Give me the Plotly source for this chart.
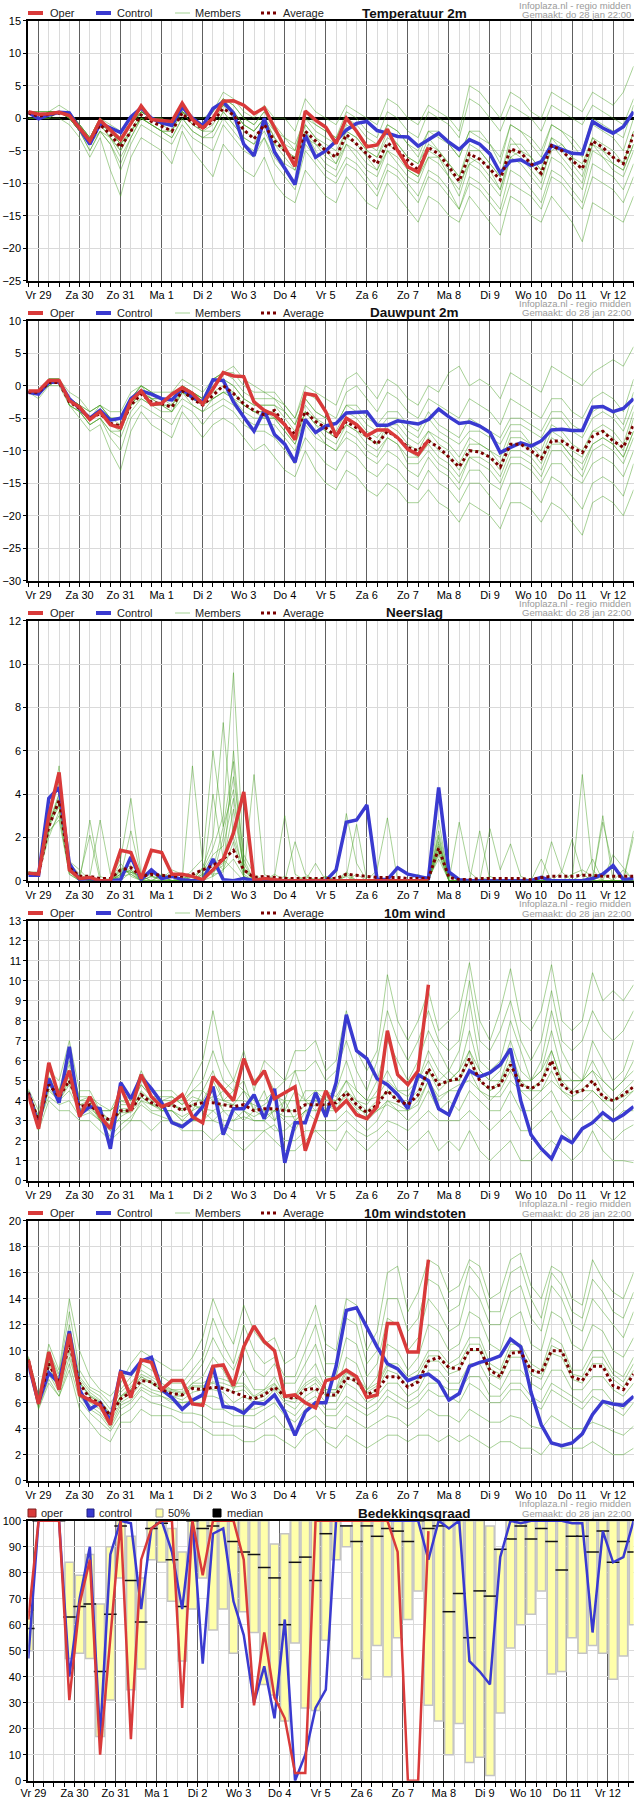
import plotly.graph_objects as go

W, H = 635, 1800
hours = list(range(-6, 349, 6))          # 6-hourly steps, 28 jan 18:00 .. 12 feb 12:00
hours_cc = list(range(-3, 352, 6))       # cloud-cover intervals (centres)
day_pos = list(range(0, 337, 24))
day_labels = ["Vr 29", "Za 30", "Zo 31", "Ma 1", "Di 2", "Wo 3", "Do 4", "Vr 5",
              "Za 6", "Zo 7", "Ma 8", "Di 9", "Wo 10", "Do 11", "Vr 12"]

# ---------------- Temperatuur 2m ----------------
t2m_oper = [1.0, 0.6, 0.7, 0.9, 0.4, -1.5, -3.5, -0.3, -1.8, -3.3,
            -0.8, 1.9, -0.2, -0.4, -0.5, 2.3, -0.2, -1.5, 0.0, 2.6,
            2.7, 2.0, 0.7, 1.6, -1.5, -4.5, -7.4, 1.1, -0.3, -1.4,
            -3.9, 0.0, -2.0, -4.4, -4.1, -1.7, -5.0, -7.5, -8.3, -4.5]
t2m_ctrl = [0.9, -0.1, 0.5, 0.9, 0.8, -1.5, -4.0, -0.8, -1.5, -2.2,
            0.2, 1.6, 0.0, -0.7, -1.1, 1.7, 0.0, -1.2, 1.5, 2.5,
            0.8, -4.0, -5.8, 0.0, -5.2, -7.8, -10.2, -2.6, -6.0, -5.0,
            -3.5, -1.8, -0.8, -0.5, -1.9, -2.3, -2.8, -2.9, -4.3, -3.3,
            -2.3, -3.7, -4.8, -3.3, -4.0, -5.5, -8.4, -6.6, -6.4, -7.3,
            -6.7, -4.2, -4.8, -5.4, -5.5, -0.5, -1.5, -2.3, -1.3, 1.0]
t2m_avg = [0.8, 0.3, 0.6, 0.8, 0.5, -1.5, -3.5, -1.0, -2.5, -4.5,
           -2.0, 0.5, -0.5, -1.3, -2.0, 0.8, -0.8, -1.5, -0.5, 1.5,
           0.5, -1.8, -3.2, -1.0, -3.5, -5.0, -6.5, -2.0, -3.5, -5.0,
           -6.0, -2.5, -4.0, -5.5, -7.0, -3.8, -5.0, -6.5, -8.0, -4.5,
           -5.5, -7.5, -9.7, -5.5, -6.3, -7.8, -9.5, -4.7, -5.3, -7.0,
           -8.5, -4.2, -5.0, -6.5, -7.8, -3.5, -4.5, -6.0, -7.0, -2.5]
t2m_members = [
    [1, 0, 1, 1, 0, -2, -3, 0, -2, -3, -1, 1, 0, 0, -1, 2, 0, 0, 1, 4, 3, 1, 0, 2, 0, 0, -2, 3, 1, 0,
     -1, 2, 1, 0, -1, 3, 2, 0, -1, 2, 1, 0, -2, 5, 4, 2, 0, 4, 3, 1, 0, 4, 3, 2, 1, 4, 3, 2, 4, 8],
    [0, 0, 0, 0, -1, -3, -6, -3, -8, -12, -6, -3, -4, -5, -7, -2, -5, -7, -9, -4, -6, -8, -9, -6, -10, -12, -13, -8, -10, -12,
     -13, -9, -11, -13, -14, -10, -12, -14, -16, -12, -13, -15, -16, -12, -14, -16, -18, -12, -13, -15, -16, -12, -14, -16, -19, -13, -14, -15, -16, -12],
    [1, 1, 1, 2, 1, -1, -3, 0, -2, -4, -1, 1, 0, -1, -1, 1, 0, -1, 0, 3, 2, 0, -1, 1, -1, -3, -4, 0, -1, -2,
     -3, 0, -1, -3, -4, -1, -2, -4, -5, -2, -3, -4, -6, -2, -3, -4, -6, -1, -2, -3, -5, -1, -2, -3, -5, 0, -1, -2, -3, 2],
    [1, 0, 0, 1, 0, -2, -5, -2, -4, -7, -3, 0, -1, -2, -3, 0, -2, -3, -3, 0, -2, -4, -5, -3, -6, -8, -10, -4, -6, -8,
     -9, -6, -7, -9, -11, -7, -8, -10, -12, -8, -9, -11, -14, -9, -10, -12, -14, -8, -9, -11, -13, -8, -9, -11, -13, -7, -8, -9, -11, -7],
    [1, 0, 1, 1, 1, -1, -4, -1, -3, -5, -2, 0, -1, -2, -2, 1, -1, -2, -2, 1, -1, -3, -4, -1, -4, -6, -8, -3, -4, -5,
     -6, -2, -3, -5, -6, -2, -4, -6, -7, -3, -5, -7, -9, -4, -5, -7, -9, -3, -5, -6, -8, -3, -5, -7, -9, -4, -6, -7, -8, -4],
    [0, 0, 1, 1, 0, -2, -4, -1, -2, -4, -2, 1, 0, -1, -2, 2, 0, -1, 1, 3, 1, -1, -2, 0, -3, -5, -6, -1, -3, -5,
     -7, -4, -5, -7, -8, -5, -6, -8, -9, -6, -6, -8, -10, -7, -6, -8, -11, -6, -5, -7, -9, -5, -4, -6, -7, -3, -5, -6, -7, -2],
    [1, 1, 1, 1, 0, -2, -4, -2, -3, -6, -3, 0, -1, -2, -3, 0, -2, -3, -2, 1, -1, -3, -4, -2, -5, -7, -8, -2, -5, -7,
     -8, -4, -6, -8, -9, -5, -7, -9, -10, -6, -7, -9, -12, -7, -8, -10, -12, -6, -7, -9, -11, -6, -7, -9, -11, -5, -6, -8, -9, -5],
    [1, 0, 1, 1, 0, -1, -3, 0, -1, -2, -1, 1, 0, 0, -1, 2, 0, -1, 0, 2, 1, -1, -2, 0, -2, -4, -5, 0, -2, -3,
     -4, -1, -2, -4, -5, -1, -2, -4, -6, -2, -2, -4, -6, -2, -2, -4, -7, -1, -2, -4, -6, -1, -2, -4, -6, -1, -2, -3, -5, 0],
    [1, 0, 0, 1, 0, -2, -4, -1, -3, -5, -2, 0, -1, -2, -2, 1, -1, -2, -1, 2, 0, -2, -3, -1, -4, -5, -7, -2, -4, -6,
     -7, -3, -4, -6, -8, -4, -5, -8, -9, -5, -6, -9, -11, -6, -7, -9, -11, -5, -6, -8, -10, -4, -6, -8, -10, -4, -5, -7, -8, -4],
    [1, 0, 1, 1, 1, -1, -3, -1, -2, -4, -2, 0, 0, -1, -1, 1, 0, -1, 0, 2, 1, -1, -2, 0, -3, -5, -6, -1, -3, -4,
     -5, -2, -3, -5, -6, -3, -4, -6, -7, -4, -5, -7, -9, -5, -5, -7, -9, -4, -4, -6, -8, -3, -4, -6, -8, -3, -4, -5, -7, -2],
    [0, 0, 0, 1, 0, -2, -5, -2, -4, -8, -4, -1, -2, -3, -4, -1, -3, -4, -5, -1, -3, -5, -6, -3, -7, -9, -11, -5, -7, -9,
     -10, -7, -8, -10, -12, -8, -9, -11, -13, -9, -10, -12, -14, -10, -11, -13, -15, -10, -11, -12, -14, -9, -10, -12, -14, -9, -10, -11, -13, -9],
    [1, 1, 1, 1, 0, -1, -3, 0, -2, -3, -1, 1, 0, 0, -1, 1, 0, -1, 1, 3, 2, 0, -1, 1, -2, -3, -5, 1, -1, -2,
     -3, 1, 0, -2, -3, 1, 0, -2, -3, 1, 0, -1, -3, 3, 2, 0, -2, 2, 1, 0, -2, 2, 1, 0, -1, 2, 1, 0, -1, 3],
]

# ---------------- Dauwpunt 2m ----------------
td_oper = [-0.8, -0.8, 0.8, 0.8, -2.3, -3.3, -5.2, -4.0, -6.0, -6.5,
           -2.3, -0.8, -2.9, -2.7, -1.3, -0.3, -1.2, -2.8, -0.5, 2.0,
           1.5, 1.4, -2.5, -3.8, -4.5, -6.0, -8.3, -1.2, -1.5, -4.0,
           -7.8, -5.0, -6.0, -7.7, -6.8, -6.8, -8.0, -9.8, -10.6, -8.4]
td_ctrl = [-1.0, -1.3, 0.5, 0.6, -2.0, -3.5, -5.0, -3.8, -5.3, -5.0,
           -2.0, -0.8, -1.3, -2.0, -2.2, -0.5, -1.8, -2.5, 0.9, 0.8,
           -2.5, -4.8, -7.0, -3.8, -7.5, -9.0, -11.8, -5.2, -7.2, -6.2,
           -5.8, -4.2, -4.1, -4.0, -6.1, -6.1, -5.4, -5.6, -5.9, -5.2,
           -3.6, -4.8, -5.8, -5.6, -6.2, -7.2, -10.3, -9.5, -8.8, -9.3,
           -8.5, -6.8, -6.7, -6.9, -6.9, -3.3, -3.2, -4.0, -3.5, -2.0]
td_avg = [-1.0, -1.0, 0.5, 0.5, -2.5, -3.5, -5.0, -4.3, -5.8, -6.2,
          -3.0, -1.3, -2.5, -2.8, -3.3, -0.8, -2.0, -3.0, -1.5, 0.0,
          -1.2, -2.8, -3.8, -4.5, -3.8, -6.0, -7.5, -4.0, -5.5, -6.5,
          -7.8, -5.5, -6.5, -7.8, -9.0, -7.0, -8.0, -9.5, -10.0, -8.5,
          -9.5, -11.0, -12.5, -10.0, -10.2, -11.0, -12.5, -9.0, -9.0, -10.0,
          -11.2, -8.5, -8.5, -9.5, -10.3, -7.8, -7.0, -8.5, -9.5, -6.0]
td_members = [
    [-1, -1, 1, 1, -1, -2, -4, -3, -4, -4, -1, 0, -1, -1, -1, 1, 0, -1, 1, 2, 3, 1, 0, -1, -2, -3, -5, 0, -1, -2,
     -3, 1, 2, 0, -2, 1, 0, -2, -3, 0, -1, 2, 3, 0, 1, 0, -2, 2, 1, 0, -1, 3, 2, 1, 0, 2, 3, 4, 3, 6],
    [-1, -2, 0, 0, -3, -5, -7, -6, -10, -13, -7, -4, -6, -7, -8, -4, -6, -8, -6, -5, -6, -8, -10, -9, -11, -13, -14, -10, -13, -15,
     -16, -13, -14, -16, -17, -15, -16, -18, -18, -16, -18, -19, -21, -18, -19, -20, -22, -18, -18, -19, -21, -18, -19, -21, -23, -18, -17, -18, -20, -16],
    [-1, -1, 1, 1, -2, -3, -4, -3, -5, -5, -2, 0, -1, -2, -2, 0, -1, -2, 0, 1, 0, -2, -3, -3, -3, -4, -6, -2, -4, -5,
     -6, -3, -4, -6, -7, -5, -5, -7, -8, -5, -7, -8, -9, -7, -7, -8, -9, -6, -6, -7, -8, -5, -5, -7, -8, -5, -4, -5, -7, -3],
    [-1, -1, 0, 1, -3, -4, -6, -5, -7, -8, -4, -2, -3, -4, -4, -2, -3, -4, -3, -2, -3, -5, -6, -6, -6, -8, -10, -6, -8, -9,
     -10, -8, -9, -11, -12, -10, -11, -13, -14, -11, -13, -14, -16, -13, -13, -15, -16, -12, -12, -13, -15, -12, -12, -14, -15, -12, -11, -12, -14, -10],
    [-1, -1, 1, 1, -2, -3, -5, -4, -6, -6, -3, -1, -2, -3, -3, -1, -2, -3, -2, -1, -2, -3, -4, -5, -5, -6, -8, -4, -6, -7,
     -8, -6, -7, -8, -9, -7, -8, -10, -11, -8, -10, -11, -13, -10, -10, -11, -13, -9, -9, -10, -12, -8, -9, -11, -12, -9, -8, -9, -11, -7],
    [-1, -1, 1, 1, -2, -3, -5, -4, -5, -6, -2, -1, -2, -2, -3, 0, -1, -2, 0, 1, 0, -2, -3, -3, -3, -5, -7, -3, -5, -6,
     -7, -4, -5, -7, -8, -6, -6, -8, -9, -7, -8, -9, -11, -8, -9, -10, -11, -7, -7, -9, -10, -6, -7, -9, -10, -7, -6, -7, -9, -4],
    [-1, -1, 0, 1, -2, -4, -6, -5, -7, -7, -3, -2, -3, -3, -4, -1, -3, -4, -2, -1, -2, -4, -5, -5, -5, -7, -9, -5, -7, -9,
     -10, -7, -8, -10, -11, -8, -9, -12, -12, -10, -12, -13, -15, -11, -12, -13, -15, -11, -11, -12, -14, -10, -10, -12, -14, -10, -9, -10, -12, -8],
    [-1, -1, 1, 1, -2, -3, -5, -3, -5, -5, -2, 0, -2, -2, -2, 0, -1, -2, 1, 2, 1, -1, -2, -2, -2, -4, -6, -2, -4, -5,
     -6, -3, -3, -5, -6, -4, -4, -6, -7, -4, -6, -7, -8, -5, -6, -7, -8, -5, -5, -6, -7, -4, -4, -6, -7, -4, -3, -4, -6, -1],
    [-1, -1, 1, 1, -3, -4, -5, -4, -6, -7, -3, -1, -3, -3, -4, -1, -2, -3, -2, -1, -1, -3, -4, -4, -5, -7, -9, -4, -6, -8,
     -9, -6, -7, -9, -10, -8, -9, -11, -11, -9, -11, -12, -14, -11, -11, -12, -14, -10, -10, -11, -13, -9, -9, -11, -13, -9, -8, -9, -11, -7],
    [-1, -1, 1, 1, -2, -3, -5, -4, -6, -6, -3, -1, -2, -3, -3, -1, -2, -3, -1, 0, -1, -3, -4, -4, -4, -6, -8, -4, -5, -7,
     -8, -5, -6, -8, -9, -6, -7, -9, -10, -7, -9, -10, -12, -9, -9, -10, -12, -8, -8, -9, -11, -7, -8, -10, -11, -7, -7, -8, -10, -5],
    [-1, -1, 0, 1, -3, -4, -6, -5, -8, -10, -5, -3, -4, -5, -6, -3, -4, -6, -4, -3, -4, -6, -7, -7, -8, -10, -12, -8, -10, -12,
     -13, -10, -11, -13, -14, -12, -13, -15, -16, -13, -15, -16, -18, -15, -15, -17, -19, -15, -15, -16, -18, -14, -15, -17, -19, -15, -14, -15, -17, -12],
    [-1, -1, 1, 1, -2, -3, -4, -3, -5, -5, -2, 0, -1, -2, -2, 0, -1, -2, 1, 2, 2, 0, -1, -1, -1, -3, -5, -1, -2, -4,
     -5, -1, 0, -2, -4, -1, -2, -4, -5, -2, -3, -4, -5, -2, -3, -4, -6, -2, -3, -4, -5, -2, -2, -4, -5, -2, -1, -2, -4, 1],
]

# ---------------- Neerslag ----------------
pr_oper = [0.35, 0.3, 3.0, 5.0, 0.5, 0.1, 0.15, 0.0, 0.0, 1.4,
           1.3, 0.1, 1.4, 1.3, 0.3, 0.3, 0.2, 0.05, 0.5, 1.0,
           2.2, 4.1, 0.0, 0.1, 0.05, 0.0, 0.0, 0.0, 0.0, 0.0,
           0.0, 0.0, 0.0, 0.0, 0.0, 0.0, 0.0, 0.0, 0.0, 0.0]
pr_ctrl = [0.25, 0.25, 3.8, 4.3, 0.8, 0.05, 0.1, 0.0, 0.0, 0.05,
           1.1, 0.05, 0.5, 0.1, 0.2, 0.05, 0.0, 0.0, 1.0, 0.05,
           0.0, 0.1, 0.0, 0.05, 0.0, 0.0, 0.0, 0.0, 0.0, 0.0,
           0.5, 2.7, 2.8, 3.5, 0.05, 0.05, 0.6, 0.3, 0.2, 0.1,
           4.3, 0.4, 0.05, 0.0, 0.0, 0.0, 0.0, 0.0, 0.0, 0.0,
           0.15, 0.0, 0.0, 0.0, 0.0, 0.1, 0.3, 0.7, 0.05, 0.1]
pr_avg = [0.35, 0.3, 2.5, 3.7, 0.6, 0.2, 0.2, 0.1, 0.1, 0.5,
          0.6, 0.2, 0.3, 0.25, 0.2, 0.2, 0.3, 0.5, 0.7, 1.0,
          1.4, 0.5, 0.15, 0.2, 0.15, 0.1, 0.1, 0.1, 0.1, 0.1,
          0.1, 0.3, 0.25, 0.2, 0.15, 0.15, 0.15, 0.1, 0.1, 0.1,
          1.5, 0.15, 0.05, 0.05, 0.1, 0.1, 0.1, 0.1, 0.1, 0.05,
          0.15, 0.2, 0.2, 0.2, 0.25, 0.25, 0.2, 0.2, 0.2, 0.2]
pr_members = [
    [0.3, 0.3, 3.0, 4.5, 0.5, 0.1, 0.0, 0.0, 0.0, 0.3, 0.5, 0.0, 0.2, 0.1, 0.0, 0.1, 0.2, 0.5, 1.5, 3.0,
     9.6, 1.0, 0.0, 0.1, 0.0, 0.0, 0.0, 0.0, 0.1, 0.0, 0.0, 0.2, 0.0, 0.0, 0.0, 0.0, 0.0, 0.0, 0.0, 0.1,
     1.0, 0.0, 0.0, 0.0, 0.0, 0.0, 0.0, 0.0, 0.0, 0.0, 0.0, 0.0, 0.0, 0.3, 0.5, 0.2, 0.0, 0.0, 0.0, 0.0],
    [0.4, 0.4, 2.8, 3.5, 0.8, 0.3, 0.0, 0.0, 0.1, 1.0, 3.8, 0.3, 0.2, 0.1, 0.5, 0.3, 0.0, 0.6, 2.0, 7.3,
     2.0, 0.5, 0.0, 0.0, 0.3, 0.0, 0.0, 0.0, 0.0, 0.0, 0.2, 3.1, 0.8, 0.0, 0.0, 0.0, 0.0, 0.0, 0.0, 0.0,
     2.3, 0.2, 0.0, 0.0, 0.0, 0.2, 0.0, 0.0, 0.0, 0.0, 0.0, 0.0, 0.4, 1.9, 0.3, 0.0, 0.0, 0.0, 0.5, 0.0],
    [0.3, 0.3, 2.0, 3.2, 0.4, 0.0, 0.2, 2.8, 0.3, 0.0, 0.4, 0.2, 0.0, 0.3, 0.2, 0.0, 0.5, 1.0, 6.0, 2.5,
     4.2, 0.5, 0.2, 0.0, 0.0, 0.2, 0.0, 0.0, 0.0, 0.2, 0.0, 0.0, 0.3, 0.0, 0.0, 0.0, 0.0, 0.0, 0.0, 0.0,
     2.0, 0.0, 0.0, 0.0, 0.0, 0.0, 0.0, 0.0, 0.0, 0.0, 0.0, 0.0, 0.0, 0.0, 4.9, 0.5, 0.0, 0.0, 0.0, 0.0],
    [0.3, 0.2, 2.5, 5.3, 0.6, 0.1, 0.0, 0.0, 0.0, 0.2, 0.3, 0.0, 0.0, 0.0, 0.0, 0.0, 5.3, 0.8, 0.2, 0.5,
     1.8, 0.2, 4.9, 0.3, 0.0, 0.0, 0.0, 0.0, 0.0, 0.0, 0.0, 0.0, 0.0, 0.0, 0.5, 2.9, 0.0, 0.0, 0.0, 0.0,
     1.2, 0.0, 2.7, 0.4, 0.0, 0.0, 0.0, 0.0, 0.0, 0.0, 0.0, 0.0, 0.0, 0.0, 0.0, 0.0, 0.3, 0.0, 0.0, 0.0],
    [0.4, 0.3, 2.2, 3.0, 0.3, 0.0, 2.8, 0.2, 0.0, 0.6, 0.3, 0.0, 0.5, 0.2, 0.0, 0.0, 0.0, 0.3, 0.5, 0.8,
     3.3, 0.6, 0.0, 0.0, 0.2, 3.0, 0.3, 0.0, 0.0, 0.0, 0.0, 0.0, 0.0, 0.0, 0.0, 0.0, 0.0, 0.0, 0.0, 0.0,
     1.8, 0.0, 0.0, 0.0, 0.0, 2.4, 0.5, 1.7, 0.2, 0.0, 0.0, 0.0, 0.0, 0.0, 0.0, 0.0, 3.0, 0.0, 0.0, 0.0],
    [0.3, 0.3, 2.6, 3.8, 0.9, 0.5, 0.0, 0.0, 0.0, 0.5, 0.4, 0.2, 0.3, 0.2, 0.2, 0.0, 0.0, 0.2, 1.0, 0.5,
     1.0, 0.2, 0.0, 0.0, 0.0, 0.0, 0.0, 0.2, 0.0, 0.0, 0.0, 0.4, 0.0, 0.0, 0.0, 0.0, 0.0, 0.0, 0.0, 0.0,
     1.5, 0.3, 0.0, 0.0, 0.0, 0.0, 0.0, 0.0, 0.0, 0.0, 0.0, 1.8, 0.4, 0.0, 0.0, 0.0, 0.0, 0.0, 0.0, 2.3],
    [0.3, 0.3, 2.4, 3.6, 0.4, 0.2, 0.0, 0.0, 0.0, 0.8, 0.2, 0.0, 0.0, 0.0, 0.0, 0.2, 0.0, 0.0, 4.0, 1.0,
     0.5, 0.0, 0.0, 0.0, 0.0, 0.0, 1.8, 0.3, 0.0, 0.0, 0.0, 0.2, 2.6, 0.0, 0.0, 0.0, 0.0, 0.0, 0.0, 0.0,
     1.4, 0.0, 0.0, 0.0, 0.0, 0.0, 0.0, 0.0, 0.0, 0.0, 0.0, 0.0, 0.0, 0.0, 0.0, 1.0, 0.0, 0.0, 0.0, 0.0],
    [0.4, 0.3, 2.7, 4.0, 0.6, 0.2, 0.0, 0.0, 0.0, 0.3, 0.6, 0.0, 0.0, 0.0, 0.0, 0.0, 0.0, 0.6, 0.3, 0.4,
     6.0, 0.8, 0.0, 0.0, 0.0, 0.0, 0.0, 0.0, 0.0, 0.0, 0.0, 0.0, 0.0, 0.0, 0.0, 0.0, 0.0, 0.0, 0.3, 0.0,
     2.8, 0.0, 0.0, 0.0, 0.0, 0.0, 0.0, 0.0, 0.0, 0.0, 0.0, 0.0, 0.0, 0.0, 0.0, 0.0, 0.0, 1.2, 0.6, 0.0],
    [0.3, 0.3, 2.3, 2.8, 0.3, 0.0, 0.0, 0.0, 0.0, 0.2, 2.3, 0.2, 0.0, 0.0, 0.0, 0.0, 0.0, 0.0, 0.2, 2.0,
     4.8, 1.2, 0.3, 0.0, 0.0, 0.0, 0.0, 0.0, 0.0, 0.0, 0.0, 0.0, 0.0, 0.0, 0.0, 0.0, 0.0, 0.0, 0.0, 0.0,
     1.6, 0.0, 0.0, 0.0, 2.3, 0.0, 0.0, 0.0, 0.0, 0.0, 0.0, 0.0, 0.0, 0.0, 0.0, 0.0, 0.0, 0.0, 0.0, 0.0],
    [0.4, 0.3, 2.5, 4.0, 0.7, 0.1, 0.0, 0.0, 0.0, 0.5, 0.7, 0.3, 0.4, 0.2, 0.0, 0.0, 0.0, 0.3, 0.4, 0.7,
     2.5, 0.2, 0.0, 0.0, 0.0, 0.0, 0.0, 0.0, 0.8, 0.0, 0.0, 0.0, 0.0, 0.0, 0.0, 0.0, 0.0, 0.0, 0.0, 0.0,
     2.1, 0.0, 0.0, 0.0, 0.0, 0.0, 0.0, 0.0, 0.0, 0.0, 1.0, 0.0, 0.0, 0.0, 0.0, 0.0, 0.0, 0.0, 0.0, 0.0],
    [0.3, 0.3, 2.9, 4.8, 0.5, 0.2, 2.1, 0.0, 0.0, 0.3, 0.5, 0.0, 0.2, 0.0, 0.0, 0.0, 0.2, 0.0, 0.5, 2.5,
     5.5, 0.3, 0.0, 0.0, 0.0, 0.0, 0.0, 0.0, 0.0, 0.2, 0.0, 0.0, 0.0, 0.0, 0.0, 0.0, 0.0, 0.0, 0.0, 0.0,
     1.7, 0.3, 0.0, 0.0, 0.0, 0.0, 0.0, 0.0, 0.0, 0.0, 0.0, 0.0, 0.0, 0.0, 0.0, 0.0, 2.7, 0.6, 0.0, 0.0],
    [0.3, 0.3, 2.6, 3.4, 0.5, 0.1, 0.0, 0.0, 0.0, 0.4, 0.4, 0.0, 0.0, 0.2, 0.0, 0.0, 0.0, 0.4, 1.2, 1.6,
     3.8, 0.5, 0.0, 0.0, 0.0, 0.0, 0.0, 0.0, 0.0, 0.0, 0.0, 0.3, 0.0, 0.0, 0.0, 0.0, 0.0, 0.0, 0.0, 0.0,
     1.3, 0.0, 0.0, 0.0, 0.0, 0.0, 0.0, 0.0, 0.0, 0.0, 0.0, 0.0, 0.0, 0.0, 0.3, 0.0, 0.0, 0.0, 0.0, 2.0],
]

# ---------------- 10m wind ----------------
ws_oper = [4.3, 2.6, 5.9, 4.2, 5.5, 3.2, 4.2, 3.2, 2.6, 4.7,
           3.5, 5.3, 4.2, 3.7, 3.9, 4.3, 3.2, 2.9, 5.2, 4.6,
           4.0, 6.1, 4.8, 5.5, 4.1, 4.4, 4.7, 1.5, 3.0, 4.5,
           3.5, 4.0, 3.3, 3.1, 3.7, 7.5, 5.3, 4.8, 5.5, 9.8]
ws_ctrl = [4.4, 2.8, 5.1, 3.9, 6.7, 3.3, 3.7, 3.6, 1.6, 4.9,
           4.1, 5.2, 4.6, 3.9, 2.9, 2.7, 3.1, 3.7, 4.7, 2.3,
           3.6, 3.6, 4.3, 3.1, 4.6, 0.9, 2.9, 2.9, 4.4, 3.2,
           4.9, 8.3, 6.5, 6.1, 5.1, 4.8, 4.3, 3.6, 5.3, 5.0,
           3.6, 3.3, 4.5, 5.5, 5.2, 5.4, 5.8, 6.6, 4.0, 2.3,
           1.6, 1.1, 2.2, 1.9, 2.6, 2.9, 3.4, 3.0, 3.3, 3.7]
ws_avg = [4.4, 3.0, 4.8, 4.2, 5.0, 3.7, 3.8, 3.3, 3.0, 3.5,
          3.5, 4.3, 3.9, 3.7, 3.8, 3.5, 3.8, 3.9, 3.9, 3.8,
          3.7, 3.8, 3.5, 3.6, 3.6, 3.5, 3.5, 3.8, 3.8, 3.8,
          3.9, 4.4, 3.8, 3.4, 3.8, 4.5, 4.0, 3.8, 4.3, 5.6,
          4.8, 5.0, 5.1, 6.1, 5.0, 4.6, 4.8, 5.8, 4.8, 4.6,
          4.9, 6.0, 4.8, 4.4, 4.5, 5.0, 4.2, 4.0, 4.3, 4.7]
ws_members = [
    [4.5, 3.0, 5.5, 5.0, 7.0, 4.5, 4.5, 3.5, 3.5, 4.5, 4.0, 5.5, 4.5, 4.5, 4.5, 4.0, 5.0, 6.0, 8.5, 6.0,
     5.0, 6.5, 4.5, 6.0, 5.5, 5.0, 6.5, 6.5, 7.0, 5.5, 6.0, 8.5, 6.5, 5.5, 6.5, 10.3, 8.0, 7.0, 8.0, 9.5,
     7.5, 8.0, 8.5, 10.9, 8.0, 7.0, 8.5, 10.6, 8.0, 7.5, 8.5, 10.8, 8.0, 7.5, 8.0, 10.4, 9.0, 9.5, 9.0, 9.8],
    [4.2, 2.5, 4.0, 3.5, 3.5, 3.0, 3.0, 2.5, 2.0, 2.5, 3.0, 3.0, 2.5, 3.0, 3.0, 2.5, 2.5, 2.5, 2.0, 2.5,
     2.0, 1.5, 2.0, 2.5, 2.0, 1.5, 1.5, 2.0, 2.5, 2.0, 1.5, 2.5, 2.0, 1.5, 2.0, 2.5, 2.0, 1.5, 2.0, 2.5,
     1.5, 2.0, 1.5, 2.5, 1.5, 1.0, 1.5, 2.0, 1.0, 1.0, 1.5, 2.0, 1.5, 1.0, 1.5, 2.5, 1.5, 1.0, 1.0, 0.9],
    [4.3, 3.0, 5.0, 4.0, 5.5, 3.5, 4.0, 3.0, 2.5, 3.5, 3.5, 4.5, 4.0, 3.5, 3.5, 3.0, 3.5, 4.5, 5.5, 4.0,
     4.5, 5.0, 3.5, 4.5, 3.0, 4.0, 5.5, 4.0, 3.5, 4.0, 4.5, 6.0, 4.5, 4.0, 5.0, 7.0, 6.0, 5.0, 6.0, 7.5,
     6.5, 5.5, 6.5, 9.0, 6.0, 5.5, 6.0, 8.0, 6.5, 5.0, 6.0, 8.5, 6.5, 5.5, 5.0, 7.0, 6.0, 5.0, 5.5, 7.0],
    [4.4, 2.8, 4.5, 4.0, 4.5, 3.5, 3.5, 3.0, 3.0, 3.0, 3.0, 4.0, 3.5, 3.5, 3.5, 3.0, 3.0, 3.0, 3.5, 3.0,
     3.0, 3.5, 3.0, 3.0, 2.5, 2.5, 3.0, 3.5, 3.0, 3.0, 3.0, 3.5, 3.0, 2.5, 3.0, 4.0, 3.5, 3.0, 3.5, 4.5,
     3.5, 4.0, 3.5, 4.5, 4.0, 3.5, 3.5, 4.5, 3.5, 3.5, 4.0, 4.5, 3.5, 3.0, 3.5, 4.0, 3.0, 3.0, 3.5, 3.5],
    [4.5, 3.2, 5.2, 4.5, 6.0, 4.0, 4.0, 3.5, 3.0, 3.8, 3.8, 4.8, 4.2, 4.0, 4.2, 3.8, 4.5, 4.5, 4.0, 4.5,
     5.0, 4.5, 4.0, 4.0, 4.5, 3.5, 3.5, 4.5, 4.5, 4.0, 4.0, 4.5, 4.0, 3.5, 4.0, 4.5, 4.0, 4.0, 4.5, 5.5,
     4.5, 5.0, 5.5, 6.5, 5.0, 4.5, 5.0, 6.0, 5.0, 4.5, 5.0, 6.5, 5.0, 4.5, 5.0, 5.5, 4.5, 4.0, 4.5, 5.0],
    [4.3, 2.7, 4.8, 4.2, 5.0, 3.5, 3.8, 3.0, 2.5, 3.2, 3.5, 4.2, 3.8, 3.5, 3.5, 3.2, 3.5, 3.8, 4.5, 3.5,
     3.0, 3.2, 3.0, 3.0, 3.5, 3.0, 2.5, 3.5, 3.5, 3.5, 3.5, 4.0, 3.5, 3.0, 3.5, 4.0, 3.8, 3.5, 4.0, 5.0,
     4.0, 4.5, 4.5, 5.5, 4.5, 4.0, 4.5, 5.5, 4.5, 4.0, 4.5, 5.5, 4.5, 4.0, 4.0, 4.5, 4.0, 3.5, 4.0, 4.5],
    [4.6, 3.5, 5.5, 4.5, 6.5, 4.0, 4.2, 3.8, 3.5, 4.0, 4.0, 5.0, 4.5, 4.0, 4.0, 4.0, 4.5, 5.0, 6.5, 5.0,
     4.5, 6.0, 5.0, 5.5, 4.5, 5.0, 5.5, 5.5, 6.0, 5.0, 5.5, 7.0, 5.5, 4.5, 6.0, 8.5, 7.0, 6.0, 7.0, 8.5,
     7.0, 6.5, 7.0, 10.0, 7.0, 6.5, 7.5, 9.0, 7.0, 6.0, 7.0, 9.5, 7.0, 6.5, 7.0, 8.5, 7.5, 7.0, 7.5, 8.5],
    [4.3, 2.9, 4.2, 3.8, 4.0, 3.2, 3.4, 3.0, 2.2, 2.8, 3.2, 3.8, 3.4, 3.2, 3.0, 2.8, 3.0, 3.0, 3.0, 2.8,
     2.5, 2.5, 2.5, 2.5, 2.8, 2.0, 2.0, 2.5, 2.5, 2.5, 2.5, 3.0, 2.5, 2.2, 2.5, 3.0, 2.8, 2.5, 3.0, 3.5,
     3.0, 3.0, 3.0, 3.5, 3.0, 2.5, 3.0, 3.5, 2.5, 2.5, 3.0, 3.5, 2.5, 2.0, 2.5, 3.0, 2.5, 2.0, 2.5, 2.8],
    [4.4, 3.0, 5.0, 4.2, 5.2, 3.8, 4.0, 3.2, 2.8, 3.5, 3.5, 4.2, 3.8, 3.8, 3.8, 3.5, 4.0, 4.0, 5.0, 4.0,
     4.0, 4.0, 3.8, 3.5, 3.0, 3.5, 4.5, 4.0, 4.0, 4.2, 4.0, 5.0, 4.0, 3.8, 4.5, 5.5, 4.5, 4.2, 5.0, 6.5,
     5.5, 5.0, 5.5, 7.5, 5.5, 5.0, 5.5, 7.0, 5.5, 5.0, 5.5, 7.5, 5.5, 5.0, 5.0, 6.0, 5.0, 4.5, 5.0, 6.0],
    [4.2, 2.6, 4.6, 4.0, 4.8, 3.6, 3.6, 3.2, 3.0, 3.4, 3.4, 4.0, 3.8, 3.6, 3.8, 3.5, 3.8, 3.5, 3.0, 3.5,
     3.5, 3.0, 3.5, 3.2, 3.5, 4.0, 3.0, 3.5, 3.8, 3.8, 3.5, 4.5, 3.8, 3.2, 3.5, 3.8, 3.5, 3.5, 3.8, 5.0,
     4.2, 4.5, 4.8, 5.0, 4.5, 4.2, 4.2, 5.0, 4.5, 4.5, 4.5, 5.0, 4.5, 4.2, 4.5, 4.5, 4.0, 4.0, 4.2, 4.5],
    [4.5, 3.2, 5.0, 4.5, 5.8, 4.2, 4.2, 3.5, 3.5, 4.0, 3.8, 4.8, 4.2, 4.2, 4.2, 3.8, 4.2, 4.0, 4.2, 4.0,
     3.8, 4.5, 3.5, 3.8, 4.2, 4.0, 4.0, 4.0, 4.5, 4.5, 4.2, 5.0, 4.5, 4.0, 4.2, 5.0, 4.5, 4.5, 5.0, 6.0,
     5.0, 5.5, 5.0, 6.5, 5.5, 5.0, 5.0, 6.5, 5.0, 5.0, 5.5, 6.5, 5.0, 5.0, 5.0, 5.5, 5.0, 4.5, 5.0, 5.5],
    [4.4, 3.0, 4.8, 4.0, 5.0, 3.8, 3.8, 3.4, 3.0, 3.6, 3.6, 4.4, 4.0, 3.8, 3.8, 3.6, 3.8, 3.6, 3.5, 3.8,
     3.8, 3.5, 3.2, 3.5, 3.5, 3.2, 3.2, 3.8, 4.0, 3.6, 3.8, 4.2, 3.6, 3.4, 3.8, 4.5, 4.0, 3.8, 4.2, 5.5,
     4.8, 5.0, 5.0, 6.0, 5.0, 4.5, 4.8, 5.8, 4.8, 4.6, 5.0, 6.0, 4.8, 4.4, 4.6, 5.0, 4.2, 4.0, 4.3, 4.7],
]

# ---------------- 10m windstoten ----------------
wg_oper = [9.3, 5.9, 9.9, 7.0, 11.3, 6.6, 6.2, 5.8, 4.3, 8.4,
           6.4, 9.3, 9.1, 7.0, 7.7, 7.7, 5.9, 5.8, 8.8, 8.9,
           7.3, 10.3, 11.9, 10.7, 10.0, 6.5, 6.6, 6.0, 5.6, 7.7,
           7.9, 8.5, 8.0, 6.4, 6.6, 12.1, 12.1, 9.9, 9.9, 17.0]
wg_ctrl = [9.0, 6.0, 8.3, 7.5, 11.5, 7.0, 5.5, 6.0, 4.6, 8.4,
           8.2, 9.2, 9.5, 7.0, 6.4, 5.5, 6.2, 6.6, 8.8, 5.7,
           5.6, 5.2, 6.0, 5.9, 6.6, 5.3, 3.5, 5.3, 6.0, 6.0,
           8.8, 13.1, 13.3, 11.8, 10.3, 9.0, 8.6, 7.7, 8.0, 8.2,
           7.6, 6.2, 6.7, 8.8, 9.1, 9.3, 9.6, 10.9, 10.3, 6.8,
           4.3, 2.9, 2.7, 2.9, 3.6, 5.1, 6.1, 5.9, 5.8, 6.5]
wg_avg = [9.3, 6.0, 9.0, 7.5, 10.5, 7.5, 6.3, 6.0, 5.0, 6.3,
          6.8, 7.7, 7.6, 7.0, 6.7, 6.6, 7.1, 7.0, 7.2, 7.1,
          6.8, 6.5, 6.3, 6.6, 7.2, 6.5, 6.3, 7.0, 7.1, 6.6,
          6.6, 7.9, 7.7, 6.6, 7.0, 8.0, 8.0, 7.2, 7.6, 9.2,
          9.5, 8.7, 8.6, 10.1, 10.1, 8.5, 8.0, 9.8, 9.9, 8.5,
          8.3, 10.0, 10.0, 8.0, 7.7, 8.8, 8.8, 7.3, 7.0, 8.2]
wg_members = [
    [9.5, 6.5, 10.5, 8.5, 14.0, 10.0, 8.0, 7.0, 6.5, 7.5, 9.0, 10.0, 9.5, 9.0, 8.5, 8.5, 9.5, 11.0, 14.0, 12.0,
     10.5, 13.5, 11.5, 10.5, 11.0, 9.0, 9.5, 11.5, 13.5, 10.5, 10.0, 14.0, 13.5, 10.0, 11.5, 16.0, 16.5, 13.0, 14.5, 17.0,
     16.5, 14.5, 15.0, 17.0, 16.5, 14.0, 14.5, 17.0, 17.5, 15.0, 14.0, 16.5, 16.0, 14.0, 13.5, 17.0, 15.5, 14.5, 14.0, 16.0],
    [9.0, 5.5, 7.5, 6.5, 8.5, 5.5, 4.5, 3.5, 3.0, 4.5, 4.5, 5.5, 5.0, 5.0, 5.0, 4.5, 4.5, 4.0, 3.5, 3.5,
     3.5, 3.0, 3.0, 3.5, 3.5, 3.0, 2.5, 3.5, 4.0, 3.0, 2.5, 3.5, 3.0, 2.5, 3.0, 3.5, 3.5, 3.0, 3.5, 3.5,
     3.0, 3.5, 3.0, 3.5, 3.0, 2.5, 3.0, 3.0, 2.5, 2.5, 2.0, 3.0, 2.5, 2.5, 2.5, 3.0, 2.5, 2.0, 2.0, 2.5],
    [9.3, 6.0, 9.5, 7.5, 11.0, 7.5, 6.5, 6.0, 5.0, 6.5, 7.0, 8.0, 7.5, 7.0, 6.5, 6.5, 7.5, 8.0, 9.5, 8.5,
     7.0, 8.5, 7.0, 7.0, 8.0, 6.5, 6.5, 8.0, 9.0, 7.0, 7.0, 9.5, 9.0, 7.0, 8.0, 10.5, 10.0, 8.5, 9.5, 12.0,
     11.5, 10.0, 10.5, 13.0, 12.5, 10.5, 10.0, 12.5, 13.0, 10.5, 10.0, 13.0, 12.5, 10.5, 10.0, 12.0, 11.5, 10.0, 9.5, 11.0],
    [9.2, 5.8, 8.5, 7.0, 10.0, 6.5, 5.5, 5.0, 4.0, 5.5, 6.0, 7.0, 6.5, 6.5, 6.0, 6.0, 6.0, 6.0, 5.5, 5.5,
     5.0, 5.0, 5.0, 5.5, 6.0, 5.0, 4.5, 5.5, 6.0, 5.0, 5.0, 6.0, 5.5, 5.0, 5.5, 6.5, 6.0, 5.5, 6.0, 7.0,
     6.5, 6.5, 6.0, 7.5, 7.0, 6.0, 6.0, 7.0, 7.0, 6.0, 5.5, 7.0, 6.5, 6.0, 5.5, 6.5, 6.0, 5.5, 5.0, 6.0],
    [9.4, 6.2, 9.8, 8.0, 12.0, 8.0, 7.0, 6.5, 5.5, 6.8, 7.5, 8.5, 8.0, 7.5, 7.0, 7.0, 8.0, 9.0, 11.0, 9.5,
     8.5, 10.5, 8.5, 8.0, 9.0, 7.5, 7.5, 9.0, 10.5, 8.0, 8.0, 11.0, 10.5, 8.0, 9.0, 12.5, 12.0, 10.0, 11.0, 14.0,
     13.0, 11.5, 12.0, 15.0, 14.0, 12.0, 12.0, 14.5, 15.0, 12.5, 11.5, 15.0, 14.0, 12.0, 11.5, 14.0, 13.0, 12.0, 11.0, 13.0],
    [9.2, 6.0, 8.8, 7.2, 10.5, 7.0, 6.0, 5.5, 4.5, 6.0, 6.5, 7.5, 7.0, 6.8, 6.5, 6.2, 6.8, 7.0, 7.0, 6.8,
     6.0, 6.5, 6.0, 6.2, 7.0, 6.0, 5.5, 6.5, 7.0, 6.0, 6.0, 7.5, 7.0, 6.0, 6.5, 7.5, 7.5, 6.5, 7.0, 8.5,
     8.5, 7.5, 7.5, 9.0, 9.0, 7.5, 7.0, 8.5, 8.5, 7.5, 7.0, 8.5, 8.5, 7.0, 7.0, 8.0, 8.0, 7.0, 6.5, 7.5],
    [9.5, 6.2, 9.2, 7.8, 11.5, 7.8, 6.8, 6.2, 5.2, 6.5, 7.2, 8.2, 7.8, 7.2, 7.0, 6.8, 7.5, 7.5, 8.0, 7.8,
     7.5, 7.5, 6.5, 7.0, 7.5, 6.5, 6.5, 7.5, 8.0, 7.0, 7.0, 8.5, 8.0, 7.0, 7.5, 9.0, 9.0, 8.0, 8.5, 10.0,
     10.0, 9.0, 9.5, 11.0, 11.0, 9.0, 8.5, 10.5, 10.5, 9.0, 8.5, 11.0, 10.5, 8.5, 8.5, 10.0, 10.0, 8.5, 8.0, 9.5],
    [9.1, 5.8, 8.2, 6.8, 9.5, 6.8, 5.8, 5.2, 4.2, 5.8, 6.2, 7.2, 6.8, 6.5, 6.2, 6.0, 6.2, 6.5, 6.5, 6.2,
     5.5, 5.5, 5.5, 5.8, 6.5, 5.5, 5.0, 6.0, 6.5, 5.5, 5.5, 6.5, 6.0, 5.5, 6.0, 7.0, 6.5, 6.0, 6.5, 7.5,
     7.5, 7.0, 7.0, 8.0, 8.0, 6.5, 6.5, 7.5, 7.5, 6.5, 6.0, 7.5, 7.0, 6.5, 6.0, 7.0, 7.0, 6.0, 5.5, 6.5],
    [9.6, 6.5, 10.0, 8.2, 13.0, 8.5, 7.2, 6.8, 6.0, 7.0, 8.0, 9.0, 8.5, 8.0, 7.5, 7.5, 8.5, 9.5, 12.5, 10.5,
     9.0, 12.0, 10.0, 9.0, 9.5, 8.0, 8.0, 10.0, 12.0, 9.0, 9.0, 12.5, 12.0, 9.0, 10.0, 14.0, 14.0, 11.5, 12.5, 15.5,
     15.0, 13.0, 13.5, 16.5, 15.5, 13.0, 13.0, 16.0, 16.5, 14.0, 12.5, 16.0, 15.0, 13.0, 12.5, 15.5, 14.5, 13.0, 12.5, 14.5],
    [9.3, 6.0, 9.0, 7.5, 11.0, 7.5, 6.5, 6.0, 5.0, 6.2, 6.8, 7.8, 7.5, 7.0, 6.8, 6.5, 7.2, 7.2, 7.5, 7.2,
     6.8, 7.0, 6.2, 6.5, 7.2, 6.2, 6.0, 7.0, 7.5, 6.5, 6.5, 8.0, 7.5, 6.5, 7.0, 8.5, 8.2, 7.2, 7.8, 9.2,
     9.2, 8.2, 8.5, 10.0, 10.0, 8.2, 7.8, 9.5, 9.5, 8.2, 7.8, 9.8, 9.5, 7.8, 7.5, 9.0, 9.0, 7.8, 7.2, 8.5],
    [9.0, 5.6, 7.8, 6.5, 9.0, 6.2, 5.2, 4.5, 3.8, 5.0, 5.5, 6.5, 6.0, 5.8, 5.5, 5.2, 5.2, 5.0, 4.5, 4.5,
     4.2, 4.2, 4.0, 4.5, 5.0, 4.0, 3.8, 4.5, 5.0, 4.2, 4.0, 5.0, 4.5, 4.0, 4.5, 5.0, 4.8, 4.2, 4.8, 5.5,
     5.0, 5.0, 4.5, 5.5, 5.0, 4.5, 4.5, 5.0, 4.8, 4.2, 4.0, 5.0, 4.5, 4.0, 4.0, 4.5, 4.2, 3.8, 3.5, 4.2],
    [9.4, 6.1, 9.3, 7.6, 11.2, 7.6, 6.6, 6.1, 5.1, 6.4, 7.0, 8.0, 7.6, 7.1, 6.9, 6.7, 7.3, 7.3, 7.6, 7.5,
     7.2, 7.3, 6.4, 6.8, 7.4, 6.4, 6.3, 7.3, 7.8, 6.8, 6.8, 8.3, 7.8, 6.8, 7.3, 8.8, 8.6, 7.6, 8.2, 9.6,
     9.6, 8.6, 9.0, 10.5, 10.5, 8.6, 8.2, 10.0, 10.0, 8.6, 8.2, 10.4, 10.0, 8.2, 8.0, 9.5, 9.5, 8.2, 7.6, 9.0],
]

# ---------------- Bedekkingsgraad ----------------
cc_q25 = [50, 100, 100, 100, 47, 49, 47, 17, 31, 78,
          35, 43, 85, 84, 69, 46, 66, 78, 58, 66,
          49, 65, 57, 37, 33, 23, 53, 28, 27, 54,
          85, 90, 47, 39, 52, 40, 55, 62, 73, 29,
          23, 10, 22, 7, 9, 2, 26, 51, 60, 64,
          73, 41, 42, 55, 49, 52, 49, 39, 48, 60]
cc_q75 = [65, 100, 100, 100, 84, 79, 87, 68, 90, 100,
          94, 78, 100, 100, 97, 88, 100, 100, 100, 100,
          100, 100, 100, 100, 91, 95, 100, 100, 100, 100,
          100, 98, 100, 100, 100, 100, 100, 100, 100, 100,
          100, 100, 100, 100, 100, 98, 89, 100, 100, 100,
          100, 100, 100, 100, 100, 100, 100, 100, 100, 100]
cc_median = [58.5, 100, 100, 100, 63, 67, 68, 42, 64, 98,
             77, 61, 97, 99, 85, 67, 100, 97, 98, 100,
             92, 88, 87, 82, 78, 60, 84, 86, 77, 95,
             100, 98, 92, 98, 94, 97, 96, 92, 100, 97,
             98, 65, 72, 55, 73, 71, 89, 93, 98, 93,
             97, 92, 81, 94, 94, 88, 96, 84, 92, 88]
cc_oper = [62, 100, 100, 100, 31, 68, 85, 10, 55, 100,
           16, 85, 97, 100, 100, 28, 100, 79, 100, 100,
           100, 85, 29, 57, 32, 24, 3, 3, 100, 100,
           100, 100, 100, 100, 100, 100, 88, 0, 0, 96]
cc_ctrl = [47, 100, 100, 100, 40, 70, 90, 17, 87, 100,
           99, 66, 97, 100, 88, 66, 100, 45, 95, 97,
           69, 56, 30, 44, 24, 62, 0, 10, 28, 35,
           100, 100, 100, 100, 100, 100, 100, 100, 100, 85,
           100, 97, 100, 46, 42, 37, 86, 100, 99, 100,
           100, 100, 100, 99, 99, 57, 96, 84, 86, 100]

# ======================================================================
RED = "#d93a3a"
BLUE = "#3a3ad0"
AVGC = "#7a0000"
MEMC = "rgba(70,160,35,0.47)"
FONT = "Liberation Sans, Arial, sans-serif"

X0, X1 = 28.3, 633.6
fig = go.Figure()
shapes, annotations = [], []


def px(x):
    return x / W


def py(y):
    return 1 - y / H


panels = [
    dict(title="Temperatuur 2m", rng=[-25, 15], dtick=5, oper=t2m_oper, ctrl=t2m_ctrl,
         avg=t2m_avg, mem=t2m_members, zero=True),
    dict(title="Dauwpunt 2m", rng=[-30, 10], dtick=5, oper=td_oper, ctrl=td_ctrl,
         avg=td_avg, mem=td_members, zero=False),
    dict(title="Neerslag", rng=[0, 12], dtick=2, oper=pr_oper, ctrl=pr_ctrl,
         avg=pr_avg, mem=pr_members, zero=False),
    dict(title="10m wind", rng=[0, 13], dtick=1, oper=ws_oper, ctrl=ws_ctrl,
         avg=ws_avg, mem=ws_members, zero=False),
    dict(title="10m windstoten", rng=[0, 20], dtick=2, oper=wg_oper, ctrl=wg_ctrl,
         avg=wg_avg, mem=wg_members, zero=False),
    dict(title="Bedekkingsgraad", rng=[0, 100], dtick=10, zero=False),
]

layout_axes = {}
for i, p in enumerate(panels):
    n = i + 1
    xs = "x" if n == 1 else f"x{n}"
    ys = "y" if n == 1 else f"y{n}"
    top = 20.7 + 300 * i
    bot = 280.7 + 300 * i
    xr = [-6, 348] if i < 5 else [-3, 351]

    if i < 5:
        for m in p["mem"]:
            fig.add_trace(go.Scatter(x=hours, y=m, mode="lines", xaxis=xs, yaxis=ys,
                                     line=dict(color=MEMC, width=1), hoverinfo="skip",
                                     showlegend=False))
        fig.add_trace(go.Scatter(x=hours, y=p["ctrl"], mode="lines", xaxis=xs, yaxis=ys,
                                 line=dict(color=BLUE, width=3.5), showlegend=False))
        fig.add_trace(go.Scatter(x=hours, y=p["avg"], mode="lines", xaxis=xs, yaxis=ys,
                                 line=dict(color=AVGC, width=3, dash="dot"), showlegend=False))
        fig.add_trace(go.Scatter(x=hours[:len(p["oper"])], y=p["oper"], mode="lines",
                                 xaxis=xs, yaxis=ys, line=dict(color=RED, width=3.5),
                                 showlegend=False))
    else:
        fig.add_trace(go.Bar(x=hours_cc, y=[h - l for h, l in zip(cc_q75, cc_q25)], base=cc_q25,
                             width=5.0, xaxis=xs, yaxis=ys,
                             marker=dict(color="#ffffaa", line=dict(color="#c4c4c4", width=1.5)),
                             showlegend=False))
        fig.add_trace(go.Scatter(x=hours_cc, y=cc_median, mode="markers", xaxis=xs, yaxis=ys,
                                 marker=dict(symbol="line-ew", size=9,
                                             line=dict(color="#111", width=1.5)),
                                 showlegend=False))
        fig.add_trace(go.Scatter(x=hours_cc, y=cc_ctrl, mode="lines", xaxis=xs, yaxis=ys,
                                 line=dict(color=BLUE, width=2.5), showlegend=False))
        fig.add_trace(go.Scatter(x=hours_cc[:len(cc_oper)], y=cc_oper, mode="lines",
                                 xaxis=xs, yaxis=ys, line=dict(color=RED, width=2.5),
                                 showlegend=False))

    xa = dict(domain=[px(X0), px(X1)], anchor=ys, range=xr, automargin=False,
              tickmode="array", tickvals=day_pos, ticktext=day_labels,
              showgrid=True, gridcolor="#606060", gridwidth=1,
              ticks="outside", ticklen=4, tickcolor="#000", tickwidth=1,
              ticklabelstandoff=(-3 if i == 5 else -1),
              showline=True, linecolor="#000", linewidth=2, mirror=True,
              tickfont=dict(family=FONT, size=11, color="#000"),
              zeroline=False, fixedrange=True,
              minor=dict(tickmode="linear", tick0=0, dtick=6, showgrid=True,
                         gridcolor="#dadada", gridwidth=1, ticks="outside",
                         ticklen=4, tickcolor="#000"))
    ya = dict(domain=[py(bot), py(top)], anchor=xs, range=p["rng"], dtick=p["dtick"],
              tick0=0, automargin=False, showgrid=True, gridcolor="#dadada", gridwidth=1,
              ticks="outside", ticklen=3, tickcolor="#000",
              showline=True, linecolor="#000", linewidth=2,
              tickfont=dict(family=FONT, size=11, color="#000"),
              zeroline=p["zero"], zerolinecolor="#000", zerolinewidth=3, fixedrange=True)
    layout_axes["xaxis" if n == 1 else f"xaxis{n}"] = xa
    layout_axes["yaxis" if n == 1 else f"yaxis{n}"] = ya

    # header texts (the first panel's header sits against the page top)
    yl = top - 7.7
    y_info = top - 16.8
    y_made = yl
    if i == 0:
        y_info, y_made = 5.8, 14.9
    annotations.append(dict(x=px(633), y=py(y_info), xref="paper", yref="paper",
                            text="Infoplaza.nl - regio midden", showarrow=False,
                            xanchor="right", yanchor="middle",
                            font=dict(family=FONT, size=9.5, color="#9a9a9a")))
    annotations.append(dict(x=px(633), y=py(y_made), xref="paper", yref="paper",
                            text="Gemaakt: do 28 jan 22:00", showarrow=False,
                            xanchor="right", yanchor="middle",
                            font=dict(family=FONT, size=9.5, color="#9a9a9a")))
    annotations.append(dict(x=px(415), y=py(yl), xref="paper", yref="paper",
                            text="<b>" + p["title"] + "</b>", showarrow=False,
                            xanchor="center", yanchor="middle",
                            font=dict(family=FONT, size=13.5, color="#111")))

    if i < 5:
        items = [("Oper", 28, 43, 48, dict(color=RED, width=4)),
                 ("Control", 96, 111, 115, dict(color=BLUE, width=4)),
                 ("Members", 175, 190, 193, dict(color="#b2dba5", width=1.2)),
                 ("Average", 261, 277, 281, dict(color=AVGC, width=3, dash="dot"))]
        for label, a, b, tx, ln in items:
            shapes.append(dict(type="line", xref="paper", yref="paper",
                               x0=px(a), x1=px(b), y0=py(yl), y1=py(yl), line=ln))
            annotations.append(dict(x=px(tx), y=py(yl), xref="paper", yref="paper",
                                    text=label, showarrow=False, xanchor="left",
                                    yanchor="middle",
                                    font=dict(family=FONT, size=11, color="#222")))
    else:
        items = [("oper", 28, 36, 39, RED, "#802020"),
                 ("control", 87, 94, 97, BLUE, "#202080"),
                 ("50%", 156, 163, 166, "#ffffaa", "#999"),
                 ("median", 213, 221, 225, "#000", "#000")]
        for label, a, b, tx, fc, lc in items:
            shapes.append(dict(type="rect", xref="paper", yref="paper",
                               x0=px(a), x1=px(b), y0=py(yl + 4), y1=py(yl - 4),
                               fillcolor=fc, line=dict(color=lc, width=1)))
            annotations.append(dict(x=px(tx), y=py(yl), xref="paper", yref="paper",
                                    text=label, showarrow=False, xanchor="left",
                                    yanchor="middle",
                                    font=dict(family=FONT, size=11, color="#222")))

fig.update_layout(
    template="none",
    width=W, height=H, margin=dict(l=0, r=0, t=0, b=0, pad=0, autoexpand=False),
    paper_bgcolor="white", plot_bgcolor="white",
    showlegend=False, hovermode=False,
    shapes=shapes, annotations=annotations,
    **layout_axes,
)

fig.write_html(
    "out.html",
    config={"displayModeBar": False},
    post_script="document.body.style.margin='0';document.body.style.padding='0';"
                "document.body.style.overflow='hidden';"
                "document.documentElement.style.overflow='hidden';",
)
